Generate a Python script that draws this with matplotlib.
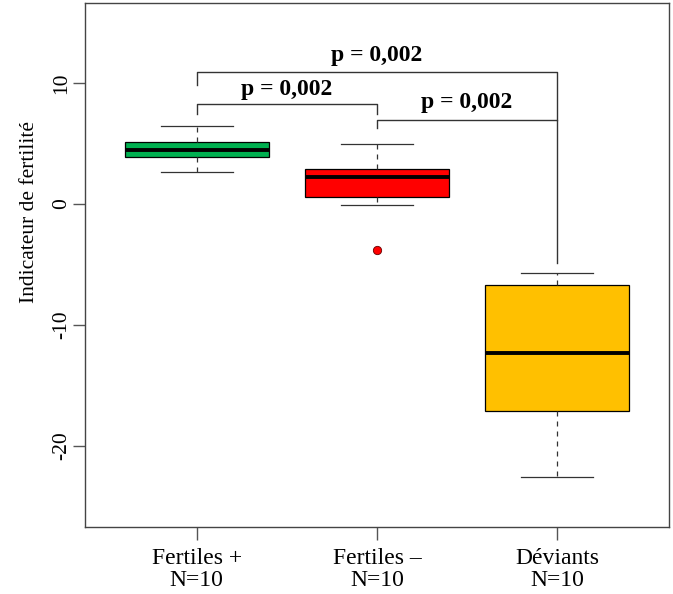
import matplotlib
matplotlib.use('Agg')
import matplotlib.pyplot as plt

plt.rcParams['font.family'] = ['Liberation Serif', 'DejaVu Serif']

# groups
groups = ['Fertiles +', 'Fertiles \u2013', 'D\u00e9viants']
counts = [10, 10, 10]
colors = ['#00B050', '#FF0000', '#FFC000']

# box statistics
whislo = [2.65, -0.10, -22.6]
q1 = [3.87, 0.59, -17.1]
med = [4.47, 2.21, -12.3]
q3 = [5.11, 2.90, -6.68]
whishi = [6.49, 4.92, -5.74]
fliers = [[], [-3.76], []]

# comparisons: (left group, right group, bar height, left leg end, right leg end, label)
comparisons = [
    (1, 3, 10.92, 9.8, 6.93, 'p = 0,002'),
    (1, 2, 8.25, 7.48, 7.48, 'p = 0,002'),
    (2, 3, 6.93, 6.26, -4.9, 'p = 0,002'),
]
label_y = [12.3, 9.5, 8.4]

fig = plt.figure(figsize=(6.73, 5.94), dpi=100)
ax = fig.add_axes([85/673, 1-526.7/594, 584/673, 524/594])

stats = []
for i in range(3):
    stats.append({'whislo': whislo[i], 'q1': q1[i], 'med': med[i], 'q3': q3[i],
                  'whishi': whishi[i], 'fliers': fliers[i]})

bp = ax.bxp(stats, positions=[1, 2, 3], widths=0.8, capwidths=0.4, patch_artist=True,
            boxprops=dict(edgecolor='black', linewidth=0.9),
            medianprops=dict(color='black', linewidth=2.8, solid_capstyle='butt'),
            whiskerprops=dict(color='#333333', linewidth=0.9, linestyle=(0, (4, 4))),
            capprops=dict(color='#333333', linewidth=0.9),
            flierprops=dict(marker='o', markersize=6, markerfacecolor='#FF0000',
                            markeredgecolor='#660000', markeredgewidth=0.6))
for patch, c in zip(bp['boxes'], colors):
    patch.set_facecolor(c)

for (a, b, h, la, lb, txt), ty in zip(comparisons, label_y):
    ax.plot([a, a, b, b], [la, h, h, lb], color='#333333', linewidth=1.0)
    ax.text((a + b) / 2, ty, txt, ha='center', va='center', fontsize=17, fontweight='bold')

ax.set_xlim(0.38, 3.62)
ax.set_ylim(-26.67, 16.64)
ax.set_xticks([1, 2, 3])
ax.set_xticklabels([g + '\nN=' + str(n) for g, n in zip(groups, counts)], fontsize=17,
                   linespacing=1.12)
ax.set_yticks([-20, -10, 0, 10])
ax.set_yticklabels(['-20', '-10', '0', '10'], fontsize=15.5, rotation=90, va='center')
ax.tick_params(axis='x', direction='out', length=9, width=1, color='#555555', pad=6)
ax.tick_params(axis='y', direction='out', length=9, width=1, color='#555555', pad=1)
ax.set_ylabel('Indicateur de fertilit\u00e9', fontsize=15.5)
ax.yaxis.set_label_coords(-0.078, 0.60)
for s in ax.spines.values():
    s.set_color('#444444')
    s.set_linewidth(1.0)

fig.savefig('out.png', dpi=100)
